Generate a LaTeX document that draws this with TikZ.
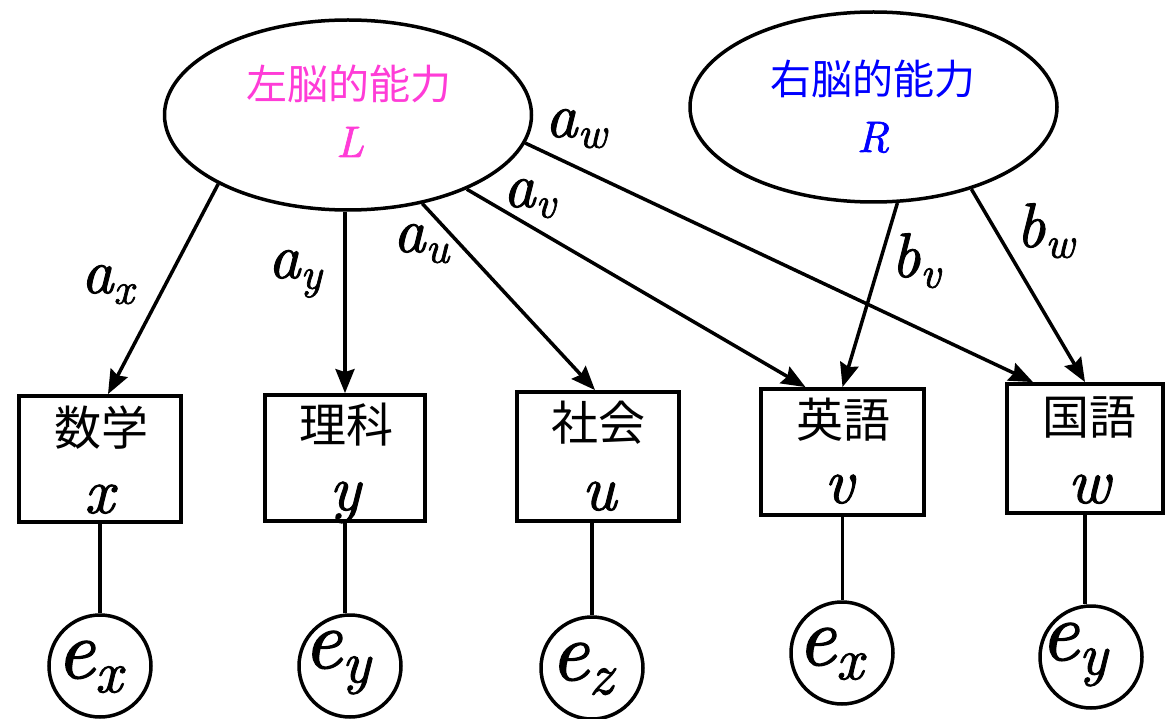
\documentclass[tikz,border=0pt]{standalone}
\usepackage{fontspec}
\usepackage{graphicx}
\newfontfamily\cjk{Noto Sans CJK JP}
\newfontfamily\mi{lmroman10-italic.otf}[FakeBold=1.5]
\usetikzlibrary{shapes.geometric,arrows.meta}
\definecolor{lpink}{RGB}{255,60,215}
\definecolor{rblue}{RGB}{0,0,255}
\newcommand\ssub[2]{{#1}\raisebox{-0.17em}{\scalebox{0.7}{#2}}}
\tikzset{
  lat/.style={ellipse, draw, line width=3.5pt, inner sep=0pt, minimum width=367pt, minimum height=190pt},
  obs/.style={rectangle, draw, line width=3.8pt, inner sep=0pt},
  err/.style={circle, draw, line width=3.5pt, inner sep=0pt, minimum size=102pt},
  arr/.style={line width=3.5pt, -{Stealth[length=24pt,width=19pt,inset=3pt]}},
  con/.style={line width=3.8pt},
  cjkbig/.style={inner sep=0pt, anchor=base, font=\cjk\fontsize{47}{50}\selectfont},
  cjkell/.style={inner sep=0pt, anchor=base, font=\cjk\fontsize{41}{44}\selectfont},
  var/.style={inner sep=0pt, anchor=base, font=\mi\fontsize{64}{70}\selectfont},
  lab/.style={inner sep=0pt, anchor=base west, font=\mi\fontsize{63}{68}\selectfont},
  elab/.style={inner sep=0pt, anchor=base west, font=\mi\fontsize{84}{90}\selectfont},
  ell/.style={inner sep=0pt, anchor=base, font=\mi\fontsize{44}{48}\selectfont},
}
\begin{document}
\begin{tikzpicture}[x=1pt,y=-1pt]
\useasboundingbox (0,0) rectangle (1167,719);
% latent
\node[lat] (L) at (348,115) {};
\node[lat] (R) at (873.5,107) {};
\node[cjkell, text=lpink] (Lt) at (348.5,100) {左脳的能力};
\node[ell, text=lpink] (Ls) at (350,157) {L};
\node[cjkell, text=rblue] (Rt) at (873,95) {右脳的能力};
\node[ell, text=rblue] (Rs) at (873,152) {R};
% observed boxes
\node[obs, minimum width=162pt, minimum height=126pt] (xb) at (100,459) {};
\node[obs, minimum width=160pt, minimum height=126pt] (yb) at (345,458) {};
\node[obs, minimum width=162pt, minimum height=129pt] (ub) at (598,456.5) {};
\node[obs, minimum width=163pt, minimum height=126pt] (vb) at (842.5,452) {};
\node[obs, minimum width=156pt, minimum height=129pt] (wb) at (1085,448.5) {};
\node[cjkbig] (xt) at (101,445) {数学};
\node[cjkbig] (yt) at (346,442) {理科};
\node[cjkbig] (ut) at (598,440) {社会};
\node[cjkbig] (vt) at (843,437) {英語};
\node[cjkbig] (wt) at (1089,434) {国語};
\node[var] (xv) at (99,513) {x};
\node[var] (yv) at (345,510) {y};
\node[var] (uv) at (599,510) {u};
\node[var] (vv) at (839,503) {v};
\node[var] (wv) at (1089,503) {w};
% error circles
\node[err] (e1) at (100,666) {};
\node[err] (e2) at (350,666) {};
\node[err] (e3) at (592,668) {};
\node[err] (e4) at (842,653) {};
\node[err] (e5) at (1091,657) {};
\node[elab] (e1t) at (56,678) {\ssub{e}{x}};
\node[elab] (e2t) at (303,668) {\ssub{e}{y}};
\node[elab] (e3t) at (550,680) {\ssub{e}{z}};
\node[elab] (e4t) at (797,665) {\ssub{e}{x}};
\node[elab] (e5t) at (1040,660) {\ssub{e}{y}};
% connectors box - error
\draw[con] (xb.south) -- (xb.south |- e1.north);
\draw[con] (yb.south) -- (yb.south |- e2.north);
\draw[con] (e3.north |- ub.south) -- (e3.north);
\draw[con] (vb.south) -- (vb.south |- e4.north);
\draw[con] (wb.south) -- (wb.south |- e5.north);
% arrows from L
\draw[arr] (L.208) -- ([xshift=8pt]xb.north);
\draw[arr] (yb.north |- L.south) -- (yb.north);
\draw[arr] (L.310) -- ([xshift=-3pt]ub.north);
\draw[arr] (L.328.8) -- ([xshift=-37pt]vb.north);
\draw[arr] (L.351.3) -- ([xshift=-52pt]wb.north);
% arrows from R
\draw[arr] (R.284.6) -- (vb.north);
\draw[arr] (R.320.4) -- (wb.north);
% labels
\node[lab] (lax) at (81,293) {\ssub{a}{x}};
\node[lab] (lay) at (268,278) {\ssub{a}{y}};
\node[lab] (lau) at (393,252) {\ssub{a}{u}};
\node[lab] (lav) at (503,207) {\ssub{a}{v}};
\node[lab] (law) at (545,137) {\ssub{a}{w}};
\node[lab] (lbv) at (891,277) {\ssub{b}{v}};
\node[lab] (lbw) at (1016,247) {\ssub{b}{w}};
\end{tikzpicture}
\end{document}
